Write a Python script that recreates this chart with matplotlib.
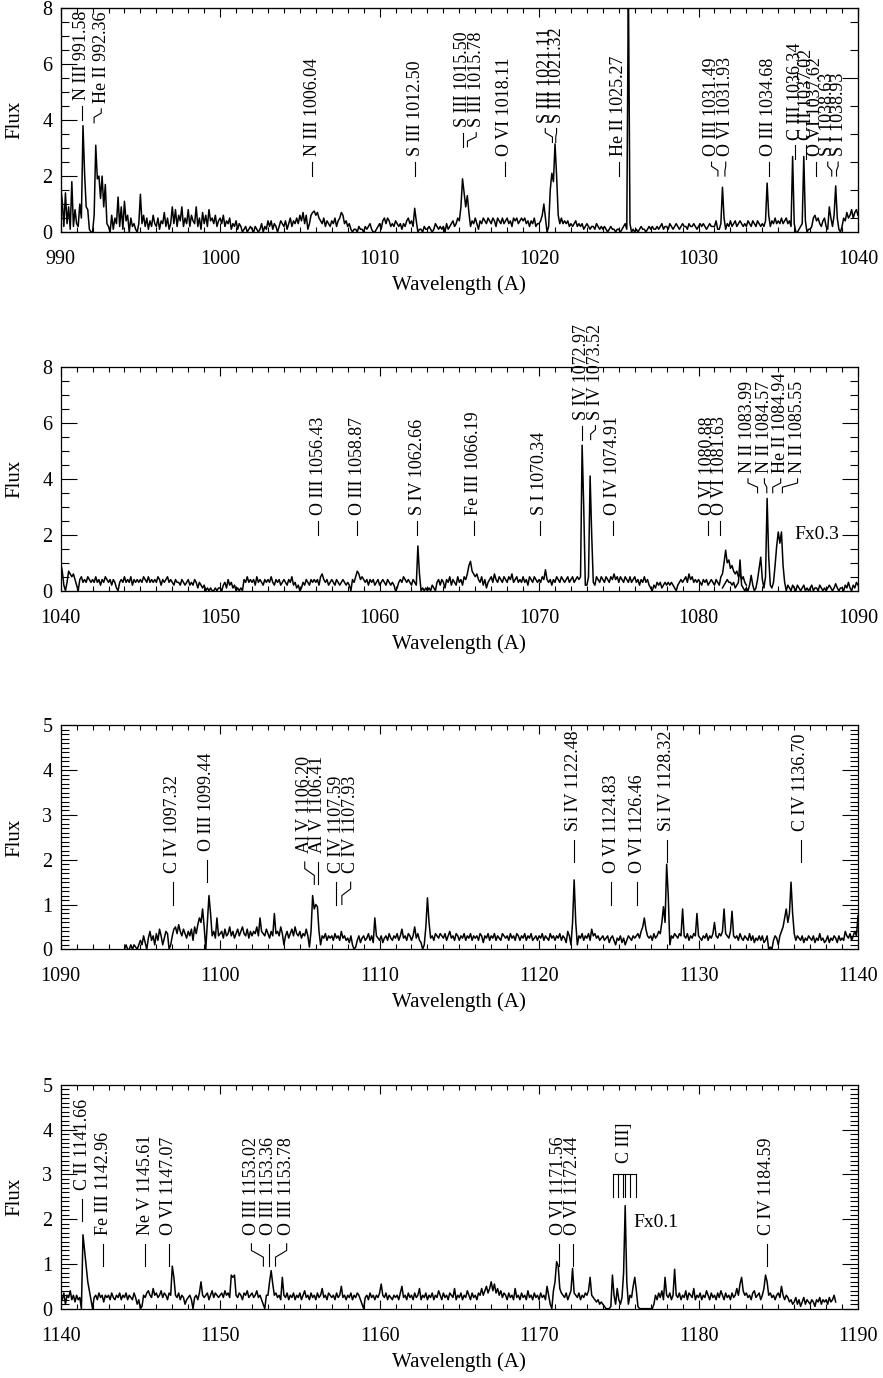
import numpy as np
import matplotlib
matplotlib.use('Agg')
import matplotlib.pyplot as plt
from matplotlib.ticker import MultipleLocator, FixedLocator

plt.rcParams['font.family'] = ['Liberation Serif', 'DejaVu Serif']

C_KMS = 299792.458
VSHIFT = -80.0   # line marks are drawn at the shifted wavelength

# ---- panel 1 : 990 - 1040 A, 0.1 A steps
flux1 = [
    1.6, 1.1, 0.2, 1.4, 0.3, 0.9, 0.1, 1.8, 0.2, 0.8,
    0.3, 0.2, 1.0, 0.5, 3.8, 2.1, 0.9, 0.8, 0.1, 0.0,
    0.0, 0.6, 3.1, 1.9, 2.0, 1.2, 2.0, 0.9, 1.7, 0.3,
    0.2, 0.0, 0.6, 0.1, 0.5, 0.3, 1.25, 0.2, 0.9, 0.1,
    1.1, 0.4, 0.6, 0.0, 0.5, 0.2, 0.3, 0.1, 0.0, 0.3,
    1.35, 0.3, 0.6, 0.2, 0.5, 0.1, 0.4, 0.2, 0.6, 0.3,
    0.2, 0.5, 0.1, 0.4, 0.3, 0.7, 0.2, 0.5, 0.1, 0.3,
    0.9, 0.3, 0.8, 0.2, 0.6, 0.4, 0.9, 0.2, 0.5, 0.3,
    0.8, 0.2, 0.6, 0.4, 0.3, 0.9, 0.2, 0.5, 0.1, 0.7,
    0.3, 0.6, 0.2, 0.8, 0.4, 0.5, 0.3, 0.6, 0.2, 0.4,
    0.5, 0.3, 0.6, 0.2, 0.4, 0.3, 0.5, 0.1, 0.3, 0.2,
    0.4, 0.1, 0.3, 0.2, 0.0, 0.1, 0.2, 0.0, 0.1, 0.2,
    0.1, 0.0, 0.2, 0.1, 0.0, 0.1, 0.3, 0.0, 0.2, 0.1,
    0.4, 0.2, 0.4, 0.1, 0.3, 0.2, 0.0, 0.2, 0.4, 0.3,
    0.2, 0.4, 0.1, 0.3, 0.5, 0.2, 0.4, 0.3, 0.5, 0.3,
    0.6, 0.4, 0.7, 0.3, 0.6, 0.1, 0.3, 0.6, 0.7, 0.75,
    0.6, 0.7, 0.5, 0.4, 0.3, 0.5, 0.2, 0.4, 0.3, 0.2,
    0.4, 0.3, 0.5, 0.2, 0.4, 0.5, 0.7, 0.6, 0.3, 0.4,
    0.2, 0.3, 0.1, 0.0, 0.1, 0.1, 0.0, 0.2, 0.1, 0.1,
    0.0, 0.2, 0.1, 0.2, 0.3, 0.1, 0.0, 0.0, 0.1, 0.2,
    0.3, 0.1, 0.4, 0.5, 0.3, 0.5, 0.4, 0.2, 0.3, 0.2,
    0.4, 0.3, 0.2, 0.3, 0.1, 0.3, 0.2, 0.4, 0.5, 0.3,
    0.4, 0.2, 0.85, 0.4, 0.0, 0.1, 0.1, 0.0, 0.2, 0.1,
    0.1, 0.2, 0.1, 0.0, 0.1, 0.3, 0.2, 0.1, 0.2, 0.1,
    0.2, 0.0, 0.3, 0.1, 0.2, 0.3, 0.4, 0.2, 0.3, 0.5,
    0.4, 0.9, 1.9, 1.4, 0.9, 1.3, 0.7, 0.2, 0.4, 0.3,
    0.5, 0.3, 0.1, 0.4, 0.3, 0.5, 0.4, 0.3, 0.5, 0.4,
    0.3, 0.5, 0.4, 0.2, 0.5, 0.4, 0.3, 0.5, 0.3, 0.4,
    0.5, 0.3, 0.4, 0.2, 0.5, 0.4, 0.5, 0.3, 0.4, 0.5,
    0.4, 0.5, 0.3, 0.4, 0.2, 0.4, 0.3, 0.5, 0.2, 0.3,
    0.3, 0.4, 0.6, 1.0, 0.5, 0.0, 0.2, 1.5, 2.1, 1.8,
    3.15, 2.0, 0.6, 0.3, 0.5, 0.3, 0.4, 0.3, 0.4, 0.2,
    0.3, 0.2, 0.3, 0.4, 0.2, 0.3, 0.2, 0.3, 0.1, 0.2,
    0.3, 0.2, 0.1, 0.2, 0.2, 0.1, 0.3, 0.2, 0.1, 0.2,
    0.1, 0.2, 0.1, 0.0, 0.1, 0.2, 0.1, 0.1, 0.0, 0.1,
    0.1, 0.0, 0.1, 0.2, 0.3, 0.1, 9.0, 0.3, 0.0, 0.1,
    0.0, 0.1, 0.0, 0.1, 0.2, 0.1, 0.1, 0.0, 0.1, 0.2,
    0.1, 0.2, 0.1, 0.1, 0.2, 0.1, 0.2, 0.3, 0.1, 0.2,
    0.2, 0.1, 0.3, 0.2, 0.1, 0.2, 0.3, 0.2, 0.1, 0.2,
    0.3, 0.2, 0.2, 0.1, 0.3, 0.2, 0.2, 0.3, 0.2, 0.1,
    0.2, 0.3, 0.2, 0.3, 0.2, 0.1, 0.2, 0.3, 0.2, 0.2,
    0.2, 0.4, 0.1, 0.1, 0.3, 1.6, 0.5, 0.1, 0.3, 0.2,
    0.4, 0.2, 0.3, 0.4, 0.2, 0.3, 0.4, 0.3, 0.2, 0.3,
    0.2, 0.4, 0.3, 0.2, 0.4, 0.3, 0.2, 0.4, 0.3, 0.2,
    0.3, 0.2, 0.4, 1.75, 0.6, 0.2, 0.4, 0.3, 0.5, 0.3,
    0.4, 0.3, 0.5, 0.3, 0.4, 0.5, 0.3, 0.4, 0.2, 2.7,
    0.3, 0.0, 0.0, 0.1, 0.2, 0.3, 2.7, 0.4, 0.0, 0.1,
    0.1, 0.2, 0.5, 0.6, 0.4, 0.5, 0.3, 0.2, 0.4, 0.5,
    0.2, 0.1, 0.9, 0.5, 0.2, 0.6, 1.65, 0.5, 0.1, 0.0,
    0.2, 0.5, 0.4, 0.7, 0.5, 0.6, 0.8, 0.5, 0.7, 0.8,
    0.6,
]

# ---- panel 2 : 1040 - 1083 A (unscaled) and 1081.5 - 1090 A (flux x 0.3)
flux2 = [
    1.0, 0.7, 0.2, 0.0, 0.3, 0.7, 0.6, 0.5, 0.6, 0.4,
    0.2, 0.0, 0.4, 0.5, 0.3, 0.4, 0.3, 0.5, 0.4, 0.3,
    0.4, 0.3, 0.5, 0.3, 0.4, 0.2, 0.4, 0.3, 0.5, 0.4,
    0.3, 0.4, 0.2, 0.4, 0.3, 0.1, 0.0, 0.3, 0.4, 0.3,
    0.5, 0.3, 0.4, 0.3, 0.5, 0.2, 0.4, 0.3, 0.4, 0.3,
    0.4, 0.3, 0.5, 0.4, 0.3, 0.5, 0.3, 0.4, 0.3, 0.4,
    0.3, 0.5, 0.4, 0.2, 0.4, 0.3, 0.4, 0.5, 0.3, 0.4,
    0.3, 0.2, 0.4, 0.3, 0.3, 0.2, 0.4, 0.3, 0.2, 0.3,
    0.4, 0.2, 0.3, 0.2, 0.4, 0.3, 0.1, 0.3, 0.2, 0.1,
    0.2, 0.0, 0.1, 0.0, 0.1, 0.0, 0.0, 0.1, 0.0, 0.1,
    0.1, 0.0, 0.2, 0.3, 0.1, 0.4, 0.2, 0.3, 0.1, 0.2,
    0.0, 0.1, 0.0, 0.1, 0.0, 0.4, 0.3, 0.5, 0.3, 0.4,
    0.3, 0.4, 0.2, 0.5, 0.3, 0.4, 0.3, 0.2, 0.4, 0.3,
    0.4, 0.3, 0.5, 0.3, 0.2, 0.4, 0.3, 0.4, 0.2, 0.3,
    0.4, 0.3, 0.2, 0.4, 0.3, 0.5, 0.2, 0.3, 0.1, 0.2,
    0.0, 0.1, 0.3, 0.2, 0.4, 0.3, 0.2, 0.4, 0.3, 0.4,
    0.3, 0.4, 0.2, 0.5, 0.6, 0.4, 0.3, 0.4, 0.2, 0.3,
    0.4, 0.3, 0.2, 0.4, 0.3, 0.2, 0.3, 0.4, 0.3, 0.2,
    0.3, 0.2, 0.0, 0.4, 0.3, 0.5, 0.7, 0.6, 0.4, 0.5,
    0.4, 0.3, 0.4, 0.2, 0.4, 0.3, 0.4, 0.2, 0.3, 0.4,
    0.2, 0.3, 0.4, 0.3, 0.2, 0.4, 0.3, 0.2, 0.3, 0.2,
    0.0, 0.1, 0.3, 0.4, 0.3, 0.5, 0.4, 0.3, 0.4, 0.3,
    0.2, 0.4, 0.3, 0.2, 1.6, 0.6, 0.0, 0.1, 0.0, 0.1,
    0.0, 0.1, 0.0, 0.2, 0.1, 0.0, 0.3, 0.4, 0.2, 0.4,
    0.3, 0.1, 0.4, 0.3, 0.5, 0.2, 0.4, 0.3, 0.2, 0.5,
    0.3, 0.4, 0.2, 0.5, 0.4, 0.6, 0.9, 1.05, 0.7, 0.6,
    0.5, 0.6, 0.4, 0.3, 0.5, 0.2, 0.4, 0.1, 0.3, 0.4,
    0.5, 0.3, 0.6, 0.4, 0.3, 0.5, 0.4, 0.3, 0.5, 0.4,
    0.3, 0.5, 0.4, 0.6, 0.3, 0.4, 0.5, 0.3, 0.4, 0.3,
    0.5, 0.3, 0.4, 0.2, 0.5, 0.4, 0.3, 0.5, 0.4, 0.3,
    0.4, 0.3, 0.5, 0.4, 0.75, 0.4, 0.3, 0.4, 0.2, 0.4,
    0.3, 0.5, 0.4, 0.3, 0.5, 0.4, 0.3, 0.4, 0.5, 0.3,
    0.4, 0.5, 0.3, 0.4, 0.5, 0.4, 0.5, 5.2, 3.0, 0.2,
    0.2, 0.5, 4.1, 2.0, 0.3, 0.2, 0.5, 0.4, 0.3, 0.5,
    0.4, 0.3, 0.5, 0.4, 0.3, 0.5, 0.4, 0.6, 0.4, 0.5,
    0.3, 0.5, 0.4, 0.3, 0.5, 0.4, 0.3, 0.5, 0.3, 0.4,
    0.5, 0.3, 0.4, 0.2, 0.4, 0.3, 0.5, 0.3, 0.4, 0.2,
    0.1, 0.0, 0.2, 0.1, 0.3, 0.2, 0.3, 0.1, 0.2, 0.3,
    0.2, 0.3, 0.2, 0.3, 0.2, 0.1, 0.0, 0.2, 0.3, 0.4,
    0.3, 0.4, 0.5, 0.3, 0.6, 0.4, 0.5, 0.3, 0.4, 0.3,
    0.4, 0.3, 0.2, 0.4, 0.3, 0.4, 0.2, 0.3, 0.4, 0.3,
    0.2, 0.4, 0.3, 0.2, 0.5, 0.6, 1.0, 1.45, 1.0, 1.1,
    0.8, 0.9, 0.7, 0.6, 0.7, 0.5, 0.6, 0.4, 0.5, 0.3,
    0.2,
]
flux2_scaled = [
    0.1, 0.2, 0.3, 0.4, 0.3,
    0.3, 0.2, 0.3, 0.1, 0.2, 0.3, 1.1, 0.2, 0.1, 0.0,
    0.1, 0.0, 0.2, 0.55, 0.2, 0.0, 0.1, 0.4, 0.8, 1.2,
    0.4, 0.1, 0.5, 3.3, 1.2, 0.2, 0.1, 0.3, 0.9, 1.6,
    2.1, 1.7, 2.1, 0.9, 0.3, 0.0, 0.2, 0.1, 0.0, 0.2,
    0.1, 0.0, 0.2, 0.1, 0.0, 0.1, 0.2, 0.0, 0.1, 0.0,
    0.1, 0.2, 0.0, 0.1, 0.1, 0.0, 0.2, 0.1, 0.0, 0.1,
    0.0, 0.1, 0.2, 0.1, 0.0, 0.1, 0.25, 0.1, 0.0, 0.1,
    0.1, 0.0, 0.2, 0.1, 0.3, 0.1, 0.0, 0.2, 0.1, 0.3,
    0.2,
]

# ---- panel 3 : 1094 - 1140 A
flux3 = [
    0.0, 0.1, 0.0, 0.0, 0.1, 0.0, 0.1, 0.05, 0.0, 0.1,
    0.2, 0.1, 0.3, 0.15, 0.0, 0.25, 0.4, 0.2, 0.3, 0.1,
    0.35, 0.2, 0.45, 0.3, 0.1, 0.25, 0.4, 0.35, 0.0, 0.1,
    0.3, 0.45, 0.5, 0.35, 0.55, 0.4, 0.3, 0.45, 0.35, 0.25,
    0.4, 0.3, 0.45, 0.2, 0.5, 0.35, 0.55, 0.7, 0.6, 0.9,
    0.5, 0.0, 0.6, 1.2, 0.8, 0.3, 0.4, 0.25, 0.7, 0.3,
    0.35, 0.4, 0.25, 0.45, 0.3, 0.35, 0.5, 0.3, 0.4, 0.25,
    0.35, 0.45, 0.3, 0.4, 0.5, 0.35, 0.3, 0.45, 0.25, 0.4,
    0.3, 0.4, 0.35, 0.5, 0.3, 0.7, 0.4, 0.35, 0.3, 0.45,
    0.35, 0.25, 0.4, 0.3, 0.8, 0.35, 0.4, 0.3, 0.5, 0.35,
    0.1, 0.3, 0.4, 0.25, 0.35, 0.45, 0.3, 0.5, 0.35, 0.3,
    0.4, 0.25, 0.35, 0.3, 0.45, 0.3, 0.05, 0.4, 1.2, 0.9,
    1.0, 0.95, 0.4, 0.1, 0.3, 0.25, 0.35, 0.2, 0.3, 0.25,
    0.3, 0.2, 0.35, 0.25, 0.3, 0.2, 0.4, 0.25, 0.3, 0.2,
    0.25, 0.15, 0.3, 0.1, 0.0, 0.05, 0.2, 0.3, 0.15, 0.25,
    0.3, 0.2, 0.25, 0.35, 0.2, 0.3, 0.15, 0.7, 0.3, 0.25,
    0.2, 0.3, 0.15, 0.25, 0.3, 0.2, 0.35, 0.25, 0.2, 0.3,
    0.25, 0.35, 0.2, 0.3, 0.45, 0.25, 0.3, 0.2, 0.35, 0.3,
    0.2, 0.3, 0.5, 0.25, 0.35, 0.2, 0.15, 0.0, 0.1, 0.5,
    1.15, 0.6, 0.25, 0.3, 0.2, 0.35, 0.3, 0.25, 0.35, 0.3,
    0.25, 0.35, 0.2, 0.3, 0.4, 0.25, 0.3, 0.2, 0.35, 0.3,
    0.2, 0.3, 0.25, 0.35, 0.2, 0.3, 0.25, 0.35, 0.2, 0.3,
    0.25, 0.3, 0.2, 0.35, 0.3, 0.15, 0.3, 0.25, 0.35, 0.2,
    0.3, 0.25, 0.35, 0.2, 0.3, 0.25, 0.2, 0.35, 0.3, 0.25,
    0.3, 0.2, 0.35, 0.25, 0.3, 0.2, 0.35, 0.3, 0.2, 0.3,
    0.25, 0.35, 0.2, 0.3, 0.25, 0.35, 0.2, 0.25, 0.3, 0.2,
    0.3, 0.25, 0.35, 0.2, 0.3, 0.25, 0.2, 0.35, 0.25, 0.3,
    0.2, 0.3, 0.25, 0.35, 0.2, 0.3, 0.25, 0.15, 0.4, 0.3,
    0.1, 0.6, 1.55, 0.6, 0.1, 0.3, 0.25, 0.35, 0.2, 0.3,
    0.25, 0.35, 0.2, 0.45, 0.3, 0.35, 0.25, 0.3, 0.2, 0.25,
    0.3, 0.2, 0.25, 0.3, 0.15, 0.25, 0.3, 0.2, 0.1, 0.25,
    0.2, 0.3, 0.15, 0.25, 0.1, 0.2, 0.3, 0.25, 0.2, 0.3,
    0.25, 0.3, 0.35, 0.25, 0.4, 0.5, 0.7, 0.45, 0.3, 0.25,
    0.3, 0.2, 0.35, 0.25, 0.3, 0.4, 0.35, 0.6, 0.95, 0.6,
    1.9, 1.2, 0.1, 0.3, 0.25, 0.35, 0.3, 0.25, 0.35, 0.3,
    0.9, 0.3, 0.25, 0.35, 0.2, 0.3, 0.25, 0.35, 0.3, 0.8,
    0.3, 0.25, 0.2, 0.3, 0.25, 0.35, 0.2, 0.3, 0.25, 0.35,
    0.6, 0.3, 0.25, 0.35, 0.3, 0.4, 0.9, 0.35, 0.3, 0.25,
    0.4, 0.85, 0.3, 0.25, 0.3, 0.2, 0.35, 0.25, 0.2, 0.3,
    0.25, 0.2, 0.35, 0.2, 0.3, 0.15, 0.25, 0.2, 0.3, 0.2,
    0.3, 0.15, 0.2, 0.3, 0.0, 0.05, 0.0, 0.2, 0.3, 0.25,
    0.1, 0.3, 0.4, 0.5, 0.7, 0.9, 0.6, 0.8, 1.5, 0.8,
    0.35, 0.2, 0.3, 0.25, 0.2, 0.3, 0.15, 0.25, 0.2, 0.3,
    0.25, 0.2, 0.3, 0.15, 0.25, 0.2, 0.35, 0.2, 0.25, 0.15,
    0.2, 0.3, 0.15, 0.25, 0.2, 0.3, 0.25, 0.15, 0.3, 0.2,
    0.25, 0.2, 0.4, 0.3, 0.25, 0.35, 0.2, 0.3, 0.4, 0.3,
    0.75,
]

# ---- panel 4 : 1140 - 1188.6 A (C III] region is flux x 0.1)
flux4 = [
    0.3, 0.2, 0.35, 0.1, 0.3, 0.25, 0.4, 0.2, 0.3, 0.15,
    0.3, 0.2, 0.25, 0.0, 1.65, 1.3, 0.95, 0.6, 0.4, 0.2,
    0.0, 0.25, 0.3, 0.2, 0.35, 0.25, 0.3, 0.15, 0.3, 0.25,
    0.3, 0.2, 0.35, 0.25, 0.2, 0.3, 0.25, 0.35, 0.2, 0.3,
    0.25, 0.35, 0.2, 0.3, 0.25, 0.2, 0.35, 0.25, 0.1, 0.2,
    0.0, 0.05, 0.3, 0.25, 0.35, 0.4, 0.3, 0.25, 0.45, 0.3,
    0.35, 0.25, 0.3, 0.4, 0.25, 0.35, 0.3, 0.2, 0.35, 0.3,
    0.95, 0.7, 0.3, 0.25, 0.35, 0.2, 0.3, 0.25, 0.1, 0.2,
    0.25, 0.3, 0.2, 0.0, 0.25, 0.3, 0.2, 0.35, 0.6, 0.3,
    0.25, 0.3, 0.35, 0.2, 0.3, 0.4, 0.25, 0.35, 0.3, 0.25,
    0.3, 0.35, 0.25, 0.4, 0.3, 0.35, 0.25, 0.75, 0.7, 0.75,
    0.3, 0.25, 0.35, 0.3, 0.2, 0.35, 0.3, 0.4, 0.25, 0.3,
    0.35, 0.25, 0.3, 0.4, 0.25, 0.3, 0.2, 0.1, 0.0, 0.3,
    0.3, 0.6, 0.85, 0.55, 0.3, 0.35, 0.25, 0.3, 0.2, 0.7,
    0.3, 0.25, 0.35, 0.2, 0.3, 0.25, 0.35, 0.2, 0.3, 0.25,
    0.35, 0.2, 0.3, 0.4, 0.25, 0.3, 0.2, 0.35, 0.25, 0.3,
    0.2, 0.35, 0.25, 0.3, 0.45, 0.25, 0.3, 0.2, 0.35, 0.3,
    0.25, 0.3, 0.2, 0.35, 0.25, 0.3, 0.5, 0.25, 0.3, 0.2,
    0.3, 0.25, 0.35, 0.2, 0.3, 0.25, 0.35, 0.3, 0.2, 0.1,
    0.0, 0.25, 0.3, 0.2, 0.35, 0.25, 0.3, 0.2, 0.3, 0.25,
    0.35, 0.55, 0.3, 0.25, 0.35, 0.2, 0.3, 0.25, 0.2, 0.3,
    0.25, 0.3, 0.2, 0.35, 0.5, 0.25, 0.3, 0.2, 0.35, 0.25,
    0.3, 0.2, 0.35, 0.25, 0.3, 0.45, 0.2, 0.3, 0.25, 0.35,
    0.2, 0.3, 0.25, 0.35, 0.2, 0.3, 0.25, 0.4, 0.3, 0.2,
    0.35, 0.25, 0.3, 0.2, 0.35, 0.3, 0.25, 0.45, 0.2, 0.3,
    0.25, 0.35, 0.2, 0.3, 0.25, 0.4, 0.3, 0.2, 0.35, 0.25,
    0.3, 0.2, 0.35, 0.3, 0.45, 0.3, 0.4, 0.5, 0.35, 0.45,
    0.6, 0.4, 0.55, 0.35, 0.45, 0.3, 0.4, 0.25, 0.35, 0.3,
    0.2, 0.35, 0.25, 0.3, 0.2, 0.45, 0.25, 0.3, 0.2, 0.35,
    0.25, 0.3, 0.2, 0.4, 0.25, 0.3, 0.2, 0.35, 0.25, 0.3,
    0.2, 0.35, 0.25, 0.3, 0.2, 0.5, 0.3, 0.1, 0.0, 0.4,
    0.6, 1.05, 0.95, 0.45, 0.35, 0.3, 0.25, 0.35, 0.2, 0.3,
    0.4, 0.9, 0.35, 0.3, 0.25, 0.35, 0.2, 0.3, 0.25, 0.35,
    0.3, 0.4, 0.7, 0.3, 0.25, 0.2, 0.15, 0.2, 0.1, 0.15,
    0.1, 0.05, 0.0, 0.0, 0.0, 0.05, 0.75, 0.3, 0.1, 0.45,
    0.2, 0.1, 0.25, 0.8, 2.3, 0.6, 0.1, 0.3, 0.25, 0.5,
    0.7, 0.4, 0.05, 0.0, 0.0, 0.0, 0.0, 0.0, 0.0, 0.0,
    0.0, 0.0, 0.1, 0.3, 0.2, 0.35, 0.25, 0.4, 0.2, 0.7,
    0.3, 0.25, 0.35, 0.2, 0.3, 0.88, 0.3, 0.25, 0.35, 0.2,
    0.3, 0.25, 0.4, 0.2, 0.35, 0.3, 0.25, 0.45, 0.2, 0.3,
    0.25, 0.35, 0.2, 0.3, 0.25, 0.4, 0.3, 0.2, 0.35, 0.25,
    0.3, 0.2, 0.35, 0.25, 0.4, 0.3, 0.2, 0.35, 0.25, 0.3,
    0.2, 0.35, 0.25, 0.3, 0.45, 0.3, 0.55, 0.7, 0.4, 0.3,
    0.35, 0.25, 0.3, 0.2, 0.35, 0.4, 0.25, 0.3, 0.35, 0.2,
    0.3, 0.45, 0.75, 0.6, 0.3, 0.35, 0.25, 0.3, 0.2, 0.3,
    0.35, 0.25, 0.5, 0.3, 0.2, 0.3, 0.25, 0.15, 0.2, 0.1,
    0.15, 0.25, 0.1, 0.2, 0.05, 0.15, 0.25, 0.1, 0.2, 0.15,
    0.1, 0.2, 0.15, 0.05, 0.2, 0.15, 0.25, 0.1, 0.2, 0.15,
    0.2, 0.1, 0.25, 0.15, 0.2, 0.3, 0.15,
]

# ---- line identifications: (label, rest wavelength, label shift in A, text base y)
lines1 = [
    ('N III 991.58', 991.58, 0.0, 4.7), ('He II 992.36', 992.36, 0.45, 4.6),
    ('N III 1006.04', 1006.04, 0.0, 2.7), ('S III 1012.50', 1012.50, 0.0, 2.7),
    ('S III 1015.50', 1015.50, 0.0, 3.75), ('S III 1015.78', 1015.78, 0.55, 3.75),
    ('O VI 1018.11', 1018.11, 0.0, 2.7), ('S III 1021.11', 1021.11, -0.45, 3.9),
    ('S III 1021.32', 1021.32, 0.05, 3.9), ('He II 1025.27', 1025.27, 0.0, 2.7),
    ('O III 1031.49', 1031.49, -0.4, 2.7), ('O VI 1031.93', 1031.93, 0.05, 2.7),
    ('O III 1034.68', 1034.68, 0.0, 2.7), ('C III 1036.34', 1036.34, 0.0, 3.3),
    ('C II 1037.02', 1037.02, 0.0, 3.3), ('O VI 1037.62', 1037.62, 0.0, 2.7),
    ('S I 1038.63', 1038.63, -0.25, 2.7), ('S I 1038.93', 1038.93, 0.1, 2.7),
]
lines2 = [
    ('O III 1056.43', 1056.43, 0.0, 2.7), ('O III 1058.87', 1058.87, 0.0, 2.7),
    ('S IV 1062.66', 1062.66, 0.0, 2.7), ('Fe III 1066.19', 1066.19, 0.0, 2.7),
    ('S I 1070.34', 1070.34, 0.0, 2.7), ('S IV 1072.97', 1072.97, 0.0, 6.1),
    ('S IV 1073.52', 1073.52, 0.3, 6.1), ('O IV 1074.91', 1074.91, 0.0, 2.7),
    ('O VI 1080.88', 1080.88, 0.0, 2.7), ('O VI 1081.63', 1081.63, 0.0, 2.7),
    ('N II 1083.99', 1083.99, -0.6, 4.2), ('N II 1084.57', 1084.57, -0.15, 4.2),
    ('He II 1084.94', 1084.94, 0.5, 4.2), ('N II 1085.55', 1085.55, 0.95, 4.2),
]
lines3 = [
    ('C IV 1097.32', 1097.32, 0.0, 1.7), ('O III 1099.44', 1099.44, 0.0, 2.2),
    ('Al V 1106.20', 1106.20, -0.6, 2.15), ('Al V 1106.41', 1106.41, 0.0, 2.15),
    ('C IV 1107.59', 1107.59, 0.0, 1.7), ('C IV 1107.93', 1107.93, 0.55, 1.7),
    ('Si IV 1122.48', 1122.48, 0.0, 2.65), ('O VI 1124.83', 1124.83, 0.0, 1.7),
    ('O VI 1126.46', 1126.46, 0.0, 1.7), ('Si IV 1128.32', 1128.32, 0.0, 2.65),
    ('C IV 1136.70', 1136.70, 0.0, 2.65),
]
lines4 = [
    ('C II 1141.66', 1141.66, 0.0, 2.65), ('Fe III 1142.96', 1142.96, 0.0, 1.65),
    ('Ne V 1145.61', 1145.61, 0.0, 1.65), ('O VI 1147.07', 1147.07, 0.0, 1.65),
    ('O III 1153.02', 1153.02, -0.75, 1.65), ('O III 1153.36', 1153.36, 0.0, 1.65),
    ('O III 1153.78', 1153.78, 0.7, 1.65), ('O VI 1171.56', 1171.56, 0.0, 1.65),
    ('O VI 1172.44', 1172.44, 0.0, 1.65), ('C IV 1184.59', 1184.59, 0.0, 1.65),
]
ciii_multiplet = [1174.93, 1175.26, 1175.59, 1175.71, 1175.99, 1176.37]

# right-hand axis ticks of the top panel
right1_major = [5.5]
right1_minor = [0.5, 1.5, 2.5, 3.5, 4.5, 6.5, 7.5]


def shifted(lam):
    return lam * (1.0 + VSHIFT / C_KMS)


def mark_lines(ax, lines):
    for text, lam, dx, yt in lines:
        x0 = shifted(lam)
        x1 = x0 + dx
        if dx == 0:
            ax.plot([x0, x0], [yt - 0.7, yt - 0.2], color='k', lw=0.8)
        else:
            ax.plot([x0, x0, x1, x1], [yt - 0.7, yt - 0.5, yt - 0.35, yt - 0.2],
                    color='k', lw=0.8)
        ax.text(x1, yt, text, rotation=90, ha='center', va='bottom', fontsize=13)


def setup(ax, x0, ymax, ymaj, ymin, right=True):
    ax.set_xlim(x0, x0 + 50)
    ax.set_ylim(0, ymax)
    ax.xaxis.set_major_locator(MultipleLocator(10))
    ax.xaxis.set_minor_locator(MultipleLocator(1))
    ax.yaxis.set_major_locator(MultipleLocator(ymaj))
    ax.yaxis.set_minor_locator(MultipleLocator(ymin))
    ax.tick_params(which='both', direction='in', top=True, right=right,
                   labelsize=14.5, width=0.8)
    ax.tick_params(axis='x', which='major', length=6.5, pad=13)
    ax.tick_params(axis='x', which='minor', length=3.3)
    ax.tick_params(axis='y', which='major', length=11.5, pad=6)
    ax.tick_params(axis='y', which='minor', length=5.5)
    for s in ax.spines.values():
        s.set_linewidth(0.9)
    ax.set_xlabel('Wavelength (A)', fontsize=15)
    ax.set_ylabel('Flux', fontsize=15)
    ax.xaxis.label.set_va('center')
    ax.yaxis.label.set_va('center')
    ax.xaxis.set_label_coords(0.5, -0.237)
    ax.yaxis.set_label_coords(-0.057, 0.5)


fig = plt.figure(figsize=(8.83, 13.78), dpi=100)
left, width, height = 0.0687, 0.903, 0.1625
bottoms = [0.8316, 0.5713, 0.3111, 0.0503]
axes = [fig.add_axes([left, b, width, height]) for b in bottoms]

w1 = 990.0 + 0.1 * np.arange(len(flux1))
w2 = 1040.0 + 0.1 * np.arange(len(flux2))
w2s = 1081.5 + 0.1 * np.arange(len(flux2_scaled))
w3 = 1094.0 + 0.1 * np.arange(len(flux3))
w4 = 1140.0 + 0.1 * np.arange(len(flux4))

LW = 1.1

ax = axes[0]
ax.plot(w1, flux1, color='k', lw=LW)
setup(ax, 990, 8, 2, 0.5, right=False)
mark_lines(ax, lines1)
axr = ax.twinx()
axr.set_ylim(0, 8)
axr.yaxis.set_major_locator(FixedLocator(right1_major))
axr.yaxis.set_minor_locator(FixedLocator(right1_minor))
axr.tick_params(which='both', direction='in', labelright=False, width=0.8)
axr.tick_params(which='major', length=11.5)
axr.tick_params(which='minor', length=5.5)

ax = axes[1]
ax.plot(w2, flux2, color='k', lw=LW)
ax.plot(w2s, flux2_scaled, color='k', lw=LW)
setup(ax, 1040, 8, 2, 0.5)
mark_lines(ax, lines2)
ax.text(1086.0, 2.0, 'Fx0.3', ha='left', va='center', fontsize=14)

ax = axes[2]
ax.plot(w3, flux3, color='k', lw=LW)
setup(ax, 1090, 5, 1, 0.1)
mark_lines(ax, lines3)

ax = axes[3]
ax.plot(w4, flux4, color='k', lw=LW)
setup(ax, 1140, 5, 1, 0.1)
mark_lines(ax, lines4)
comb = [shifted(l) for l in ciii_multiplet]
for xc in comb:
    ax.plot([xc, xc], [2.5, 3.0], color='k', lw=0.8)
ax.plot([comb[0], comb[-1]], [3.0, 3.0], color='k', lw=0.8)
ax.text(np.mean(comb), 3.25, 'C III]', rotation=90, ha='center', va='bottom', fontsize=13)
ax.text(1175.9, 1.93, 'Fx0.1', ha='left', va='center', fontsize=14)

fig.savefig('out.png', dpi=100)
